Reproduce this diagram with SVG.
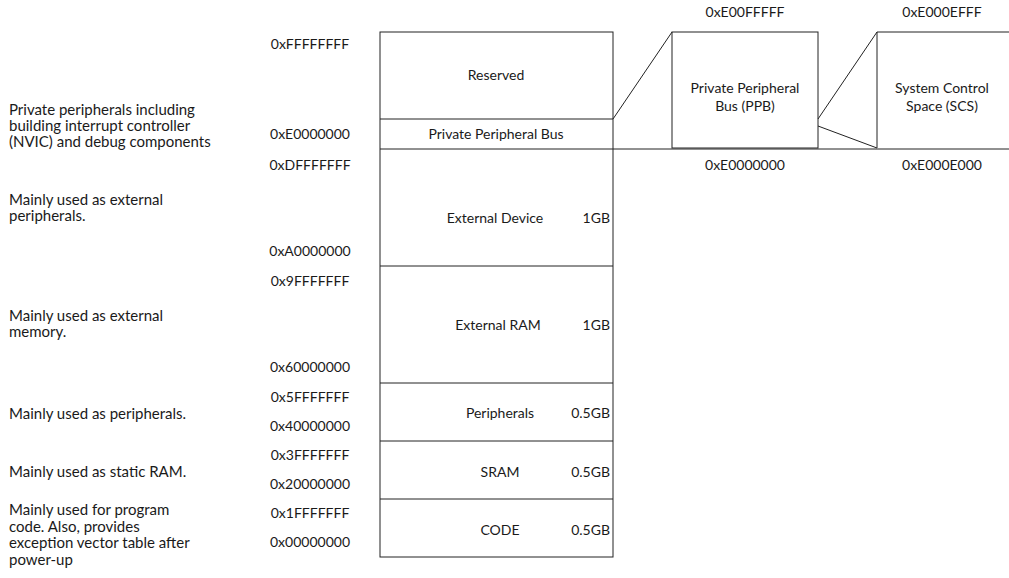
<svg xmlns="http://www.w3.org/2000/svg" width="1009" height="578" viewBox="0 0 1009 578">
<style>
text{font-family:Lato,"Liberation Sans",sans-serif;font-size:14px;fill:#1a1a1a}
.m{text-anchor:middle}
.e{text-anchor:end}
.d{font-size:15px}
.box{fill:#fff;stroke:#222;stroke-width:1}
.ln{fill:none;stroke:#222;stroke-width:1}
</style>
<rect width="1009" height="578" fill="#fff"/>
<g id="memory-map">
<rect class="box" x="380" y="32" width="233" height="525"/>
</g>
<g id="reserved"><text class="m" x="496" y="80">Reserved</text></g>
<g id="ppb-region"><text class="m" x="496" y="139">Private Peripheral Bus</text></g>
<g id="external-device"><text class="m" x="495" y="223">External Device</text><text class="e" x="610" y="223">1GB</text></g>
<g id="external-ram"><text class="m" x="498" y="330">External RAM</text><text class="e" x="610" y="330">1GB</text></g>
<g id="peripherals"><text class="m" x="500" y="418">Peripherals</text><text class="e" x="610" y="418">0.5GB</text></g>
<g id="sram"><text class="m" x="500" y="477">SRAM</text><text class="e" x="610" y="477">0.5GB</text></g>
<g id="code"><text class="m" x="500" y="535">CODE</text><text class="e" x="610" y="535">0.5GB</text></g>
<g id="ppb-box"><rect class="box" x="672" y="32" width="146" height="116"/>
<text class="m" x="745" y="93">Private Peripheral</text><text class="m" x="745" y="111">Bus (PPB)</text></g>
<g id="scs-box"><path class="ln" d="M1009 32H877V148"/>
<text class="m" x="942" y="93">System Control</text><text class="m" x="942" y="111">Space (SCS)</text></g>
<g id="connectors">
<path class="ln" d="M380 119H613M380 149H1009M380 266H613M380 383H613M380 441H613M380 499H613"/>
<path class="ln" d="M613 119L672 32M818 119L877 32M818 126L877 148"/>
</g>
<g id="addresses">
<text class="m" x="310" y="49">0xFFFFFFFF</text>
<text class="m" x="310" y="139">0xE0000000</text>
<text class="m" x="310" y="170">0xDFFFFFFF</text>
<text class="m" x="310" y="256">0xA0000000</text>
<text class="m" x="310" y="286">0x9FFFFFFF</text>
<text class="m" x="310" y="372">0x60000000</text>
<text class="m" x="310" y="402">0x5FFFFFFF</text>
<text class="m" x="310" y="431">0x40000000</text>
<text class="m" x="310" y="460">0x3FFFFFFF</text>
<text class="m" x="310" y="489">0x20000000</text>
<text class="m" x="310" y="518">0x1FFFFFFF</text>
<text class="m" x="310" y="547">0x00000000</text>
<text class="m" x="745" y="17">0xE00FFFFF</text>
<text class="m" x="942" y="17">0xE000EFFF</text>
<text class="m" x="745" y="170">0xE0000000</text>
<text class="m" x="942" y="170">0xE000E000</text>
</g>
<g id="descriptions">
<text class="d" x="9" y="115">Private peripherals including</text>
<text class="d" x="9" y="131">building interrupt controller</text>
<text class="d" x="9" y="147">(NVIC) and debug components</text>
<text class="d" x="9" y="205">Mainly used as external</text>
<text class="d" x="9" y="221">peripherals.</text>
<text class="d" x="9" y="321">Mainly used as external</text>
<text class="d" x="9" y="337">memory.</text>
<text class="d" x="9" y="419">Mainly used as peripherals.</text>
<text class="d" x="9" y="477">Mainly used as static RAM.</text>
<text class="d" x="9" y="515">Mainly used for program</text>
<text class="d" x="9" y="532">code. Also, provides</text>
<text class="d" x="9" y="548">exception vector table after</text>
<text class="d" x="9" y="565">power-up</text>
</g>
</svg>
